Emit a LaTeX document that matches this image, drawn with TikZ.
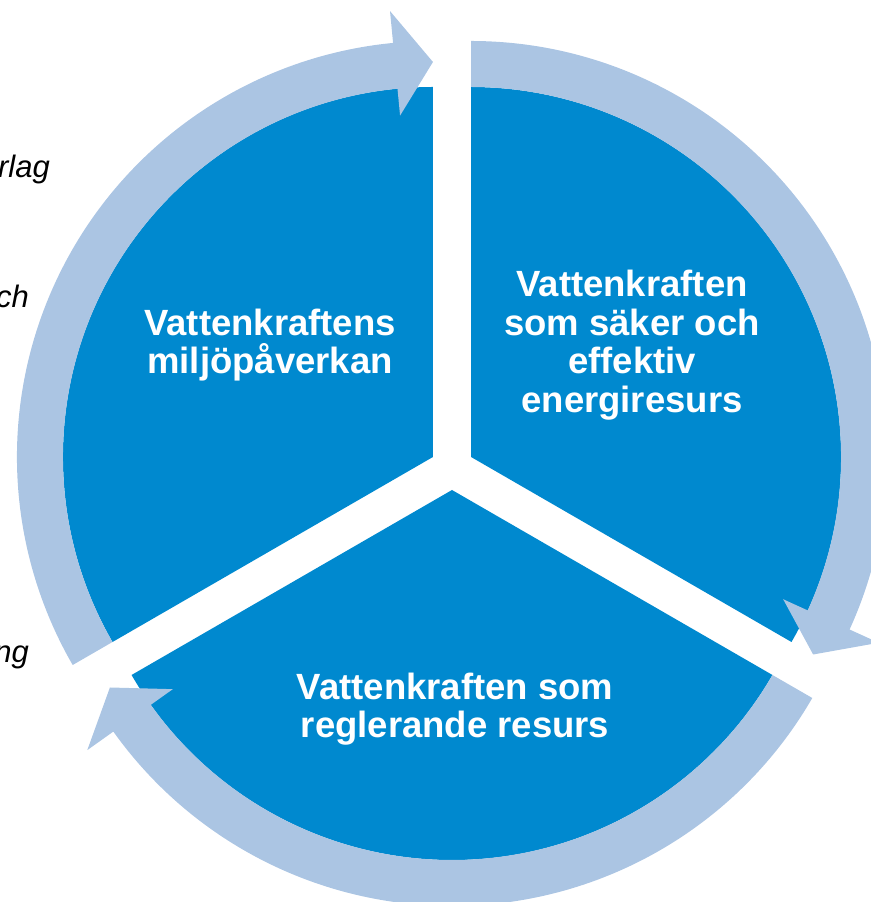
\documentclass[tikz,border=0pt]{standalone}
\usepackage{fontspec}
\setmainfont{Liberation Sans}
\usetikzlibrary{calc}
\definecolor{sectorblue}{RGB}{0,137,207}
\definecolor{ringblue}{RGB}{171,197,227}
% pie sector: centre, from angle, to angle
\newcommand{\piesector}[3]{%
  \fill[sectorblue] (#1) -- ($(#1)+(#2:370pt)$)
    arc[start angle=#2, end angle=#3, radius=370pt] -- cycle;}
% ring arrow: centre, start angle, tip angle, head base angle
\newcommand{\ringarrow}[4]{%
  \fill[ringblue] ($(#1)+(#2:416pt)$)
    arc[start angle=#2, end angle=#4, radius=416pt]
    -- ($(#1)+(#4:448pt)$) -- ($(#1)+(#3:395pt)$) -- ($(#1)+(#4:343pt)$)
    -- ($(#1)+(#4:370pt)$)
    arc[start angle=#4, end angle=#2, radius=370pt] -- cycle;}
\begin{document}
\begin{tikzpicture}[
  x=1pt, y=1pt,
  seclabel/.style={text=white, align=center,
                   font=\bfseries\fontsize{36.5}{38.5}\selectfont},
  sidelabel/.style={anchor=base east, inner sep=0pt,
                    font=\itshape\fontsize{31}{36}\selectfont}
]
  \useasboundingbox (0,0) rectangle (870,902);
  \coordinate (O) at (452,434);
  \coordinate (cL) at ($(O)+(150:22pt)$);
  \coordinate (cR) at ($(O)+(30:22pt)$);
  \coordinate (cB) at ($(O)+(270:22pt)$);

  \piesector{cL}{90}{210}
  \piesector{cR}{-30}{90}
  \piesector{cB}{210}{330}

  \ringarrow{cL}{210}{90}{95.5}
  \ringarrow{cR}{90}{-30}{-24.5}
  \ringarrow{cB}{-30}{-150}{-144.5}

  \node[seclabel] (env) at (270,557) {Vattenkraftens\\miljöpåverkan};
  \node[seclabel] (eff) at (632,557) {Vattenkraften\\som säker och\\effektiv\\energiresurs};
  \node[seclabel] (reg) at (455,193) {Vattenkraften som\\reglerande resurs};

  \node[sidelabel] (sideA) at (50,724) {rlag};
  \node[sidelabel] (sideB) at (29,594) {ch};
  \node[sidelabel] (sideC) at (29,239) {ng};
\end{tikzpicture}
\end{document}
